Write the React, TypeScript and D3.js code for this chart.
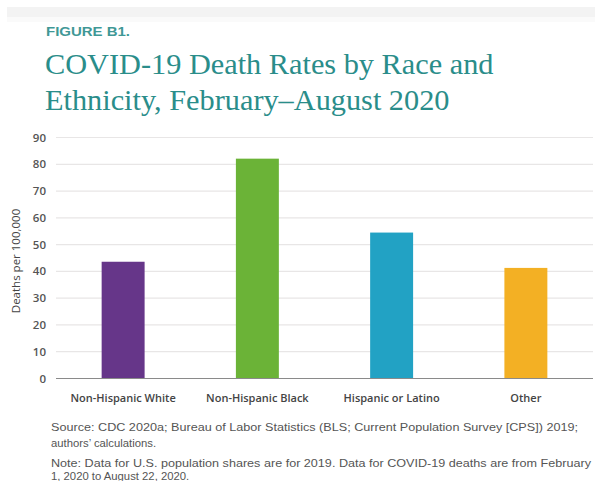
import React from "react";
import * as d3 from "d3";

const categories = ["Non-Hispanic White", "Non-Hispanic Black", "Hispanic or Latino", "Other"];
const values = [43.6, 82.1, 54.5, 41.3];
const barColors = ["#663689", "#6bb337", "#22a2c4", "#f3b024"];
const yTicks = [0, 10, 20, 30, 40, 50, 60, 70, 80, 90];
const titleLines = ["COVID-19 Death Rates by Race and", "Ethnicity, February\u2013August 2020"];
const figureLabel = "FIGURE B1.";
const yLabel = "Deaths per 100,000";
const noteLines = [
  "Source: CDC 2020a; Bureau of Labor Statistics (BLS; Current Population Survey [CPS]) 2019;",
  "authors\u2019 calculations.",
  "Note: Data for U.S. population shares are for 2019. Data for COVID-19 deaths are from February",
  "1, 2020 to August 22, 2020.",
];

const W = 595;
const H = 481;
const plotLeft = 56;
const plotRight = 593;
const plotTop = 137.5;
const plotBottom = 378.5;

export default function App() {
  const x = d3
    .scaleBand<string>()
    .domain(categories)
    .range([plotLeft, plotRight])
    .paddingInner(0.68)
    .paddingOuter(0.34);
  const y = d3.scaleLinear().domain([0, 90]).range([plotBottom, plotTop]);
  const sans = "'Open Sans', 'Noto Sans', sans-serif";
  const arial = "'Liberation Sans', Arial, sans-serif";
  return (
    <svg
      width={W}
      height={H}
      viewBox={`0 0 ${W} ${H}`}
      style={{ position: "absolute", left: 0, top: 0, background: "#fff" }}
    >
      <rect x={0} y={0} width={W} height={H} fill="#fff" />
      <rect x={7} y={7} width={W - 7} height={10} fill="#f3f3f3" />
      <rect x={7} y={17} width={W - 7} height={5} fill="#fafafa" />
      <text
        x={46}
        y={36}
        fontFamily={arial}
        fontWeight={700}
        fontSize={12.5}
        fill="#3f9896"
        textLength={84}
        lengthAdjust="spacingAndGlyphs"
      >
        {figureLabel}
      </text>
      {titleLines.map((t, i) => (
        <text
          key={i}
          x={45}
          y={74 + i * 35.5}
          fontFamily="'Liberation Serif', 'Times New Roman', serif"
          fontSize={30.3}
          fill="#2a8d8a"
        >
          {t}
        </text>
      ))}
      {yTicks.map((t) => (
        <g key={t}>
          {t !== 0 && (
            <line x1={plotLeft} x2={plotRight} y1={y(t)} y2={y(t)} stroke="#e8e6e6" strokeWidth={1.2} />
          )}
          <text
            x={46}
            y={y(t)}
            dy="0.35em"
            textAnchor="end"
            fontFamily={sans}
            fontWeight={600}
            fontSize={11.5}
            fill="#555"
          >
            {t}
          </text>
        </g>
      ))}
      <text
        transform={`translate(16,${(plotTop + plotBottom) / 2 + 3}) rotate(-90)`}
        textAnchor="middle"
        dy="0.35em"
        fontFamily={sans}
        fontSize={11.5}
        fill="#444"
      >
        {yLabel}
      </text>
      {categories.map((c, i) => (
        <rect
          key={c}
          x={x(c)}
          y={y(values[i])}
          width={x.bandwidth()}
          height={y(0) - y(values[i])}
          fill={barColors[i]}
        />
      ))}
      <line x1={plotLeft} x2={plotRight} y1={y(0)} y2={y(0)} stroke="#8a8a8a" strokeWidth={1.2} />
      {categories.map((c) => (
        <text
          key={c}
          x={(x(c) as number) + x.bandwidth() / 2}
          y={402}
          textAnchor="middle"
          fontFamily={sans}
          fontWeight={600}
          fontSize={11}
          fill="#444"
        >
          {c}
        </text>
      ))}
      {noteLines.map((t, i) => (
        <text
          key={i}
          x={51}
          y={[431, 446.5, 467, 480][i]}
          fontFamily={arial}
          fontSize={11.3}
          fill="#555"
          textLength={i === 0 ? 527 : i === 2 ? 540 : undefined}
          lengthAdjust="spacingAndGlyphs"
        >
          {t}
        </text>
      ))}
    </svg>
  );
}
